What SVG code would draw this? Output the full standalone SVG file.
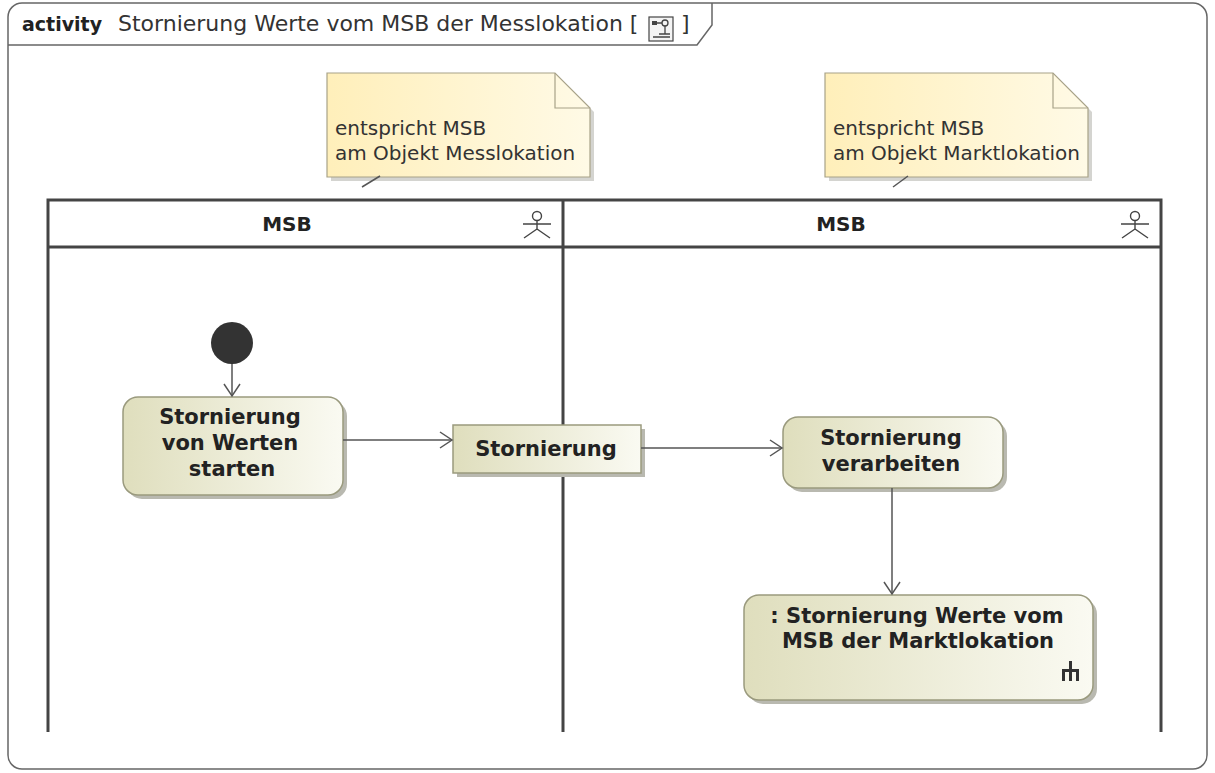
<svg xmlns="http://www.w3.org/2000/svg" width="1215" height="773" viewBox="0 0 1215 773">
<defs>
<linearGradient id="actG" x1="0" y1="0" x2="1" y2="0">
<stop offset="0" stop-color="#dfdebd"/>
<stop offset="1" stop-color="#fafaf2"/>
</linearGradient>
<linearGradient id="noteG" x1="0" y1="0" x2="1" y2="0">
<stop offset="0" stop-color="#ffefba"/>
<stop offset="1" stop-color="#fffae6"/>
</linearGradient>
<marker id="arr" markerWidth="16" markerHeight="18" refX="13" refY="9" orient="auto" markerUnits="userSpaceOnUse">
<path d="M1,1 L13,9 L1,17" fill="none" stroke="#555" stroke-width="1.5"/>
</marker>
<style>
.frame{fill:#fff;stroke:#666;stroke-width:1.5}
.lane{fill:none;stroke:#444;stroke-width:3}
.act{fill:url(#actG);stroke:#9a9a7e;stroke-width:1.5}
.shadow{fill:#b9b9b0}
.note{fill:url(#noteG);stroke:#a8a288;stroke-width:1.2}
.nshadow{fill:#d4d4d0}
.edge{fill:none;stroke:#555;stroke-width:1.5}
.bt{font-family:"DejaVu Sans",sans-serif;font-weight:bold;font-size:21px;fill:#222;text-anchor:middle}
.nt{font-family:"DejaVu Sans",sans-serif;font-size:20px;fill:#333}
.hd{font-family:"DejaVu Sans",sans-serif;font-weight:bold;font-size:20px;fill:#222;text-anchor:middle}
.actor{fill:none;stroke:#444;stroke-width:1.4}
</style>
</defs>
<rect width="1215" height="773" fill="#fff"/>
<g id="frame">
<rect class="frame" x="8" y="3" width="1199" height="766" rx="14"/>
<path d="M8,45 L697,45 L712,25 L712,3" fill="none" stroke="#666" stroke-width="1.5"/>
<text x="22" y="31" font-family="DejaVu Sans, sans-serif" font-weight="bold" font-size="19" fill="#222">activity</text>
<text x="118" y="31" font-family="DejaVu Sans, sans-serif" font-size="22" fill="#333">Stornierung Werte vom MSB der Messlokation [</text>
<g id="title-icon">
<rect x="649" y="17" width="24" height="24" fill="#f4f4f4" stroke="#444" stroke-width="1.2"/>
<rect x="652" y="21" width="5" height="4" fill="#444"/>
<path d="M657,23 L662,23 M665,26 L665,34 M659,34 L670,34 M653,37 L670,37" stroke="#444" stroke-width="1.3" fill="none"/>
<circle cx="665" cy="23" r="3" fill="none" stroke="#444" stroke-width="1.3"/>
</g>
<text x="681" y="31" font-family="DejaVu Sans, sans-serif" font-size="22" fill="#333">]</text>
</g>
<g id="lanes">
<path class="lane" d="M48,732 L48,200 L1161,200 L1161,732 M48,247 L1161,247 M563,200 L563,732"/>
<text class="hd" x="287" y="231">MSB</text>
<text class="hd" x="841" y="231">MSB</text>
<g class="actor">
<circle cx="537" cy="216" r="4.5"/>
<path d="M537,220.5 L537,229 M523,224 L551,224 M537,229 L524,238 M537,229 L550,238"/>
<circle cx="1135" cy="216" r="4.5"/>
<path d="M1135,220.5 L1135,229 M1121,224 L1149,224 M1135,229 L1122,238 M1135,229 L1148,238"/>
</g>
</g>
<g id="note1">
<path class="nshadow" d="M331,77 L559,77 L594,112 L594,181 L331,181 Z"/>
<path class="note" d="M327,73 L555,73 L590,108 L590,177 L327,177 Z"/>
<path d="M555,73 L555,108 L590,108" fill="none" stroke="#a8a288" stroke-width="1.2"/>
<text class="nt" x="335" y="135">entspricht MSB</text>
<text class="nt" x="335" y="160">am Objekt Messlokation</text>
</g>
<g id="note2">
<path class="nshadow" d="M829,77 L1057,77 L1092,112 L1092,181 L829,181 Z"/>
<path class="note" d="M825,73 L1053,73 L1088,108 L1088,177 L825,177 Z"/>
<path d="M1053,73 L1053,108 L1088,108" fill="none" stroke="#a8a288" stroke-width="1.2"/>
<text class="nt" x="833" y="135">entspricht MSB</text>
<text class="nt" x="833" y="160">am Objekt Marktlokation</text>
</g>
<g id="start">
<circle cx="232" cy="343" r="21" fill="#333"/>
</g>
<g id="act1">
<rect class="shadow" x="127" y="401" width="220" height="98" rx="15"/>
<rect class="act" x="123" y="397" width="220" height="98" rx="15"/>
<text class="bt" x="230" y="424">Stornierung</text>
<text class="bt" x="230" y="450">von Werten</text>
<text class="bt" x="232" y="476">starten</text>
</g>
<g id="obj1">
<rect class="shadow" x="457" y="429" width="188" height="48"/>
<rect class="act" x="453" y="425" width="188" height="48"/>
<text class="bt" x="546" y="456">Stornierung</text>
</g>
<g id="act2">
<rect class="shadow" x="787" y="421" width="220" height="71" rx="15"/>
<rect class="act" x="783" y="417" width="220" height="71" rx="15"/>
<text class="bt" x="891" y="445">Stornierung</text>
<text class="bt" x="891" y="471">verarbeiten</text>
</g>
<g id="act3">
<rect class="shadow" x="748" y="599" width="349" height="105" rx="15"/>
<rect class="act" x="744" y="595" width="349" height="105" rx="15"/>
<text class="bt" x="917" y="623">: Stornierung Werte vom</text>
<text class="bt" x="918" y="648">MSB der Marktlokation</text>
<path d="M1070.5,661 L1070.5,681 M1062,670.5 L1079,670.5 M1063.5,670 L1063.5,681 M1077.5,670 L1077.5,681" stroke="#333" stroke-width="3" fill="none"/>
</g>
<g id="connectors">
<path class="edge" d="M380,176 L362,187"/>
<path class="edge" d="M908,176 L893,187"/>
<path class="edge" d="M232,364 L232,396" marker-end="url(#arr)"/>
<path class="edge" d="M343,440 L452,440" marker-end="url(#arr)"/>
<path class="edge" d="M641,448 L782,448" marker-end="url(#arr)"/>
<path class="edge" d="M892,488 L892,594" marker-end="url(#arr)"/>
</g>
</svg>
